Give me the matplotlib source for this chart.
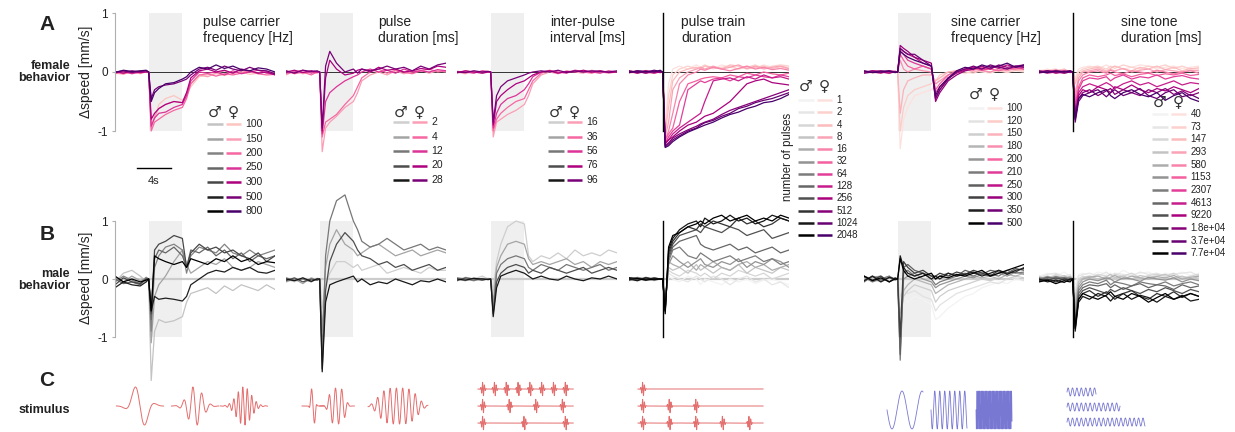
import numpy as np
import matplotlib.pyplot as plt

W, H = 1235, 432
plt.rcParams['font.family'] = ['Liberation Sans', 'DejaVu Sans']

# time grid of the behaviour traces [s], stimulus starts at t=0
t_grid = [-4, -3, -2, -1, -0.3, 0, 0.3, 0.7, 1.2, 2, 3, 4,
          4.5, 5, 6, 7, 8, 9, 10, 11, 12, 13, 14, 15]

# ---- pulse carrier frequency [Hz]
carrier_labels = ['100', '150', '200', '250', '300', '500', '800']
carrier_female = [
    [-0.02, -0.04, 0.00, -0.03, 0.01, 0.00, -0.85, -0.80, -0.55, -0.45, -0.40, -0.48, -0.40, -0.25, -0.08, -0.05, -0.03, -0.06, -0.02, 0.00, -0.04, -0.02, 0.00, -0.03],
    [-0.03, 0.00, -0.02, 0.02, -0.01, 0.00, -0.95, -0.75, -0.62, -0.55, -0.50, -0.52, -0.35, -0.20, -0.05, -0.08, -0.02, 0.02, -0.03, 0.02, 0.00, -0.03, 0.01, -0.02],
    [0.00, -0.03, 0.01, -0.02, 0.00, 0.00, -1.00, -0.85, -0.80, -0.72, -0.65, -0.60, -0.45, -0.20, -0.05, -0.03, -0.07, -0.03, -0.05, -0.02, 0.02, -0.03, -0.05, -0.04],
    [-0.02, 0.01, -0.03, 0.00, 0.02, 0.00, -0.92, -0.78, -0.70, -0.68, -0.60, -0.55, -0.40, -0.15, 0.00, -0.02, 0.00, -0.05, 0.02, -0.03, 0.00, 0.03, -0.02, -0.03],
    [0.01, -0.02, 0.02, -0.01, 0.00, 0.00, -0.80, -0.70, -0.62, -0.55, -0.50, -0.52, -0.35, -0.10, 0.02, 0.05, 0.00, 0.03, -0.02, 0.05, 0.02, -0.02, 0.00, -0.05],
    [0.00, 0.02, -0.01, 0.01, 0.02, 0.00, -0.45, -0.30, -0.25, -0.22, -0.20, -0.15, -0.12, -0.05, 0.05, 0.08, 0.03, 0.10, 0.05, 0.02, 0.08, 0.03, 0.02, -0.03],
    [-0.01, 0.03, 0.01, 0.02, 0.03, 0.00, -0.50, -0.35, -0.28, -0.20, -0.18, -0.12, -0.08, 0.00, 0.08, 0.05, 0.12, 0.06, 0.10, 0.04, 0.02, 0.07, 0.05, 0.00],
]
carrier_male = [
    [-0.05, 0.10, 0.15, 0.05, -0.05, 0.00, -1.75, -0.90, -0.70, -0.75, -0.72, -0.65, -0.40, -0.25, -0.20, -0.15, -0.25, -0.12, -0.20, -0.10, -0.15, -0.20, -0.10, -0.18],
    [0.02, -0.05, 0.05, -0.03, 0.02, 0.00, -1.10, -0.30, -0.10, 0.05, 0.30, 0.50, 0.25, 0.10, 0.20, 0.30, 0.25, 0.35, 0.20, 0.15, 0.20, 0.30, 0.25, 0.20],
    [-0.05, 0.05, -0.02, -0.08, 0.03, 0.00, -0.90, 0.20, 0.40, 0.55, 0.60, 0.50, 0.10, 0.40, 0.55, 0.50, 0.45, 0.60, 0.45, 0.40, 0.50, 0.40, 0.45, 0.50],
    [0.00, -0.08, -0.05, -0.10, 0.00, 0.00, -0.70, 0.35, 0.50, 0.45, 0.55, 0.40, 0.20, 0.50, 0.45, 0.55, 0.40, 0.50, 0.35, 0.45, 0.30, 0.40, 0.35, 0.40],
    [-0.10, 0.02, -0.05, -0.08, 0.00, 0.00, -0.60, 0.50, 0.60, 0.65, 0.75, 0.70, 0.20, 0.45, 0.60, 0.50, 0.55, 0.45, 0.50, 0.40, 0.35, 0.45, 0.30, 0.40],
    [-0.15, -0.05, -0.10, -0.12, -0.05, 0.00, -0.55, -0.30, -0.35, -0.33, -0.35, -0.38, -0.30, -0.10, 0.00, 0.10, 0.15, 0.12, 0.20, 0.15, 0.20, 0.12, 0.10, 0.15],
    [0.05, -0.05, 0.00, -0.05, -0.02, 0.00, -0.55, 0.40, 0.35, 0.30, 0.25, 0.30, 0.20, 0.35, 0.30, 0.25, 0.35, 0.30, 0.40, 0.30, 0.35, 0.25, 0.30, 0.28],
]

# ---- pulse duration [ms]
duration_labels = ['2', '4', '12', '20', '28']
duration_female = [
    [-0.05, 0.02, -0.03, 0.00, -0.02, 0.00, -1.35, -0.95, -0.85, -0.75, -0.60, -0.50, -0.35, -0.15, -0.05, 0.00, -0.05, 0.02, -0.03, 0.00, 0.03, -0.02, 0.02, 0.00],
    [0.02, -0.03, 0.00, -0.05, 0.00, 0.00, -1.10, -0.85, -0.80, -0.72, -0.55, -0.40, -0.25, -0.10, 0.00, 0.05, -0.02, 0.03, 0.00, -0.03, 0.02, 0.05, 0.00, 0.02],
    [-0.02, 0.00, 0.03, -0.02, 0.01, 0.00, -1.05, -0.50, -0.35, -0.25, -0.15, -0.08, -0.05, 0.00, 0.05, 0.00, 0.03, -0.02, 0.05, 0.00, 0.02, 0.00, 0.04, 0.02],
    [0.00, 0.03, -0.01, 0.02, 0.00, 0.00, -1.00, -0.10, 0.20, 0.05, -0.05, -0.02, 0.03, 0.05, 0.00, 0.08, 0.03, 0.05, 0.00, 0.02, 0.06, 0.04, 0.10, 0.08],
    [0.02, -0.02, 0.03, 0.01, 0.02, 0.00, -0.95, 0.10, 0.35, 0.15, 0.00, 0.05, -0.02, 0.05, 0.02, 0.05, 0.10, 0.05, 0.08, 0.02, 0.10, 0.05, 0.12, 0.15],
]
duration_male = [
    [0.00, -0.05, 0.02, -0.03, 0.00, 0.00, -0.50, -0.10, 0.10, 0.30, 0.30, 0.20, 0.25, 0.15, 0.20, 0.25, 0.10, 0.15, 0.20, 0.15, 0.10, 0.20, 0.15, 0.15],
    [-0.05, 0.00, -0.08, 0.02, -0.02, 0.00, -0.90, 0.20, 0.60, 0.85, 0.60, 0.50, 0.40, 0.45, 0.55, 0.60, 0.50, 0.40, 0.45, 0.50, 0.40, 0.45, 0.50, 0.45],
    [0.02, -0.02, 0.00, -0.05, 0.01, 0.00, -1.30, 0.40, 1.00, 1.35, 1.45, 1.00, 0.85, 0.65, 0.55, 0.60, 0.70, 0.60, 0.50, 0.55, 0.60, 0.50, 0.55, 0.50],
    [-0.03, 0.02, -0.05, 0.00, -0.02, 0.00, -1.55, -0.20, 0.30, 0.60, 0.80, 0.65, 0.50, 0.40, 0.35, 0.25, 0.30, 0.20, 0.25, 0.15, 0.20, 0.25, 0.15, 0.20],
    [0.00, -0.03, 0.02, -0.04, 0.00, 0.00, -1.60, -0.40, -0.10, -0.05, 0.00, 0.05, -0.05, 0.00, -0.10, -0.05, -0.08, 0.00, -0.05, -0.10, -0.03, -0.05, 0.00, -0.05],
]

# ---- inter-pulse interval [ms]
ipi_labels = ['16', '36', '56', '76', '96']
ipi_female = [
    [0.00, -0.03, 0.02, -0.02, 0.00, 0.00, -1.10, -0.85, -0.80, -0.72, -0.65, -0.55, -0.40, -0.20, -0.05, 0.00, -0.03, 0.02, 0.00, -0.02, 0.03, 0.00, -0.02, 0.00],
    [-0.02, 0.02, -0.01, 0.01, 0.00, 0.00, -1.00, -0.80, -0.70, -0.60, -0.50, -0.45, -0.30, -0.15, -0.02, 0.03, -0.01, 0.00, 0.02, 0.00, -0.02, 0.02, 0.00, 0.01],
    [0.01, 0.00, -0.02, 0.02, 0.01, 0.00, -0.95, -0.70, -0.55, -0.45, -0.40, -0.30, -0.20, -0.08, 0.00, 0.02, 0.00, -0.02, 0.03, 0.01, 0.00, -0.02, 0.02, 0.00],
    [-0.01, 0.02, 0.00, -0.02, 0.00, 0.00, -0.90, -0.50, -0.40, -0.30, -0.20, -0.15, -0.10, -0.05, 0.00, 0.02, -0.02, 0.01, 0.00, 0.03, 0.00, 0.02, -0.01, 0.00],
    [0.00, -0.01, 0.02, 0.00, 0.01, 0.00, -0.85, -0.40, -0.25, -0.15, -0.10, -0.05, -0.02, 0.00, 0.02, 0.00, 0.03, -0.01, 0.02, 0.00, 0.02, 0.01, 0.00, 0.02],
]
ipi_male = [
    [-0.02, 0.03, 0.00, 0.05, 0.00, 0.00, -0.20, 0.30, 0.60, 0.90, 1.00, 0.95, 0.40, 0.30, 0.40, 0.35, 0.45, 0.35, 0.50, 0.40, 0.45, 0.40, 0.50, 0.45],
    [0.00, -0.03, 0.02, -0.02, 0.01, 0.00, -0.40, 0.20, 0.40, 0.60, 0.65, 0.60, 0.35, 0.25, 0.30, 0.25, 0.30, 0.35, 0.25, 0.30, 0.20, 0.30, 0.25, 0.30],
    [0.02, 0.00, -0.03, 0.01, -0.01, 0.00, -0.55, 0.10, 0.25, 0.35, 0.40, 0.35, 0.20, 0.15, 0.25, 0.20, 0.15, 0.25, 0.20, 0.15, 0.20, 0.25, 0.15, 0.20],
    [-0.03, 0.02, 0.00, -0.02, 0.00, 0.00, -0.60, -0.05, 0.10, 0.20, 0.25, 0.20, 0.10, 0.15, 0.10, 0.20, 0.15, 0.10, 0.15, 0.20, 0.10, 0.15, 0.20, 0.15],
    [0.00, -0.02, 0.01, 0.00, -0.01, 0.00, -0.65, -0.15, 0.05, 0.10, 0.15, 0.10, 0.05, 0.00, 0.05, 0.00, -0.02, 0.05, 0.00, -0.03, 0.02, 0.00, 0.05, 0.00],
]

# ---- pulse train duration (number of pulses)
train_labels = ['1', '2', '4', '8', '16', '32', '64', '128', '256', '512', '1024', '2048']
train_female = [
    [0.02, -0.01, 0.03, 0.00, 0.01, 0.00, -0.90, -0.20, 0.05, 0.10, 0.05, 0.12, 0.08, 0.10, 0.05, 0.12, 0.08, 0.05, 0.10, 0.06, 0.12, 0.08, 0.10, 0.08],
    [0.00, 0.02, -0.02, 0.01, 0.00, 0.00, -1.00, -0.40, -0.05, 0.05, 0.10, 0.05, 0.08, 0.12, 0.06, 0.08, 0.10, 0.05, 0.08, 0.12, 0.06, 0.10, 0.12, 0.10],
    [-0.02, 0.00, 0.01, -0.01, 0.02, 0.00, -1.05, -0.60, -0.15, 0.00, 0.05, 0.08, 0.05, 0.10, 0.08, 0.05, 0.12, 0.10, 0.05, 0.08, 0.10, 0.06, 0.09, 0.05],
    [0.01, -0.02, 0.00, 0.02, -0.01, 0.00, -1.10, -0.85, -0.30, -0.10, 0.00, 0.05, 0.08, 0.05, 0.10, 0.05, 0.08, 0.12, 0.06, 0.10, 0.05, 0.08, 0.10, 0.06],
    [-0.01, 0.01, -0.02, 0.00, 0.01, 0.00, -1.15, -1.00, -0.70, -0.20, -0.05, 0.00, 0.05, 0.03, 0.08, 0.05, 0.02, 0.06, 0.10, 0.05, 0.08, 0.04, 0.06, 0.03],
    [0.00, -0.01, 0.02, -0.02, 0.00, 0.00, -1.15, -1.05, -0.95, -0.50, -0.20, -0.15, -0.12, -0.10, -0.08, -0.10, -0.05, -0.08, -0.02, -0.05, 0.00, -0.03, -0.05, -0.02],
    [0.02, 0.00, -0.01, 0.01, 0.00, 0.00, -1.20, -1.10, -1.00, -0.90, -0.30, -0.20, -0.15, -0.18, -0.12, -0.10, -0.15, -0.08, -0.10, -0.05, -0.08, -0.10, -0.05, -0.08],
    [-0.01, 0.02, 0.00, -0.02, 0.01, 0.00, -1.20, -1.15, -1.05, -0.95, -0.85, -0.75, -0.70, -0.50, -0.15, -0.12, -0.10, -0.15, -0.08, -0.12, -0.05, -0.10, -0.08, -0.12],
    [0.01, -0.02, 0.02, 0.00, -0.01, 0.00, -1.22, -1.15, -1.10, -1.00, -0.90, -0.85, -0.80, -0.75, -0.70, -0.60, -0.50, -0.35, -0.20, -0.15, -0.12, -0.18, -0.20, -0.22],
    [0.00, 0.01, -0.02, 0.02, 0.00, 0.00, -1.25, -1.20, -1.12, -1.05, -0.98, -0.92, -0.88, -0.85, -0.80, -0.72, -0.65, -0.60, -0.55, -0.50, -0.45, -0.40, -0.35, -0.30],
    [0.02, -0.01, 0.00, 0.03, 0.01, 0.00, -1.27, -1.22, -1.15, -1.08, -1.00, -0.95, -0.90, -0.86, -0.82, -0.75, -0.70, -0.62, -0.58, -0.52, -0.48, -0.45, -0.40, -0.35],
    [-0.01, 0.02, 0.01, 0.00, 0.03, 0.00, -1.28, -1.25, -1.18, -1.10, -1.02, -0.96, -0.93, -0.90, -0.85, -0.78, -0.72, -0.68, -0.62, -0.58, -0.52, -0.50, -0.45, -0.38],
]
train_male = [
    [0.00, -0.05, 0.03, -0.02, 0.00, 0.00, -0.30, 0.05, 0.00, -0.05, 0.05, 0.00, -0.10, 0.00, -0.05, -0.10, 0.00, -0.05, 0.00, -0.08, -0.02, 0.00, -0.05, -0.10],
    [0.02, 0.00, -0.03, 0.02, 0.00, 0.00, -0.35, 0.10, 0.05, 0.00, -0.05, 0.05, 0.00, -0.05, 0.05, 0.00, -0.10, 0.00, 0.05, -0.05, 0.00, -0.10, -0.05, -0.15],
    [-0.03, 0.02, 0.00, -0.03, 0.00, 0.00, -0.40, 0.15, 0.10, 0.05, 0.15, 0.10, 0.05, 0.10, 0.00, 0.10, 0.05, 0.15, 0.10, 0.05, 0.10, 0.00, 0.05, 0.10],
    [0.01, -0.02, 0.02, 0.00, 0.00, 0.00, -0.40, 0.20, 0.15, 0.20, 0.10, 0.25, 0.15, 0.20, 0.10, 0.20, 0.15, 0.25, 0.10, 0.20, 0.15, 0.10, 0.20, 0.15],
    [-0.02, 0.03, -0.01, 0.02, 0.00, 0.00, -0.45, 0.30, 0.25, 0.20, 0.30, 0.15, 0.25, 0.20, 0.30, 0.20, 0.15, 0.25, 0.30, 0.20, 0.25, 0.15, 0.20, 0.25],
    [0.00, -0.02, 0.03, -0.01, 0.00, 0.00, -0.45, 0.25, 0.40, 0.30, 0.20, 0.30, 0.35, 0.25, 0.20, 0.30, 0.25, 0.35, 0.20, 0.30, 0.25, 0.35, 0.30, 0.20],
    [0.02, 0.00, -0.02, 0.01, 0.00, 0.00, -0.50, 0.30, 0.50, 0.55, 0.40, 0.35, 0.45, 0.40, 0.30, 0.35, 0.40, 0.30, 0.35, 0.40, 0.30, 0.35, 0.25, 0.30],
    [-0.01, 0.02, 0.00, -0.02, 0.00, 0.00, -0.50, 0.35, 0.55, 0.65, 0.70, 0.75, 0.60, 0.55, 0.50, 0.55, 0.60, 0.50, 0.55, 0.45, 0.50, 0.55, 0.45, 0.50],
    [0.01, -0.01, 0.02, 0.00, 0.00, 0.00, -0.55, 0.40, 0.60, 0.75, 0.80, 0.85, 0.80, 0.90, 0.85, 0.80, 0.90, 0.85, 0.75, 0.80, 0.85, 0.70, 0.75, 0.80],
    [-0.02, 0.01, -0.01, 0.02, 0.00, 0.00, -0.55, 0.45, 0.65, 0.80, 0.90, 0.85, 0.95, 0.90, 1.00, 0.95, 0.90, 1.05, 0.95, 1.00, 0.90, 0.95, 1.05, 1.00],
    [0.00, -0.03, 0.02, -0.01, 0.00, 0.00, -0.55, 0.50, 0.70, 0.85, 0.95, 1.00, 0.90, 1.05, 0.95, 1.00, 1.10, 1.00, 1.05, 0.95, 1.00, 1.10, 1.05, 1.00],
    [0.02, 0.01, -0.02, 0.00, 0.00, 0.00, -0.60, 0.55, 0.75, 0.80, 0.90, 0.95, 1.00, 0.95, 1.05, 1.10, 1.00, 1.05, 1.10, 1.00, 1.05, 1.00, 1.10, 1.05],
]

# ---- sine carrier frequency [Hz]
sine_labels = ['100', '120', '150', '180', '200', '210', '250', '300', '350', '500']
sine_female = [
    [0.00, -0.02, 0.01, -0.03, 0.00, 0.00, -1.30, -0.80, -0.60, -0.40, -0.35, -0.30, -0.25, -0.10, -0.05, 0.00, -0.03, 0.02, 0.00, -0.02, 0.03, 0.00, 0.02, 0.00],
    [0.02, 0.00, -0.02, 0.01, 0.00, 0.00, -1.00, -0.60, -0.40, -0.30, -0.25, -0.20, -0.15, -0.05, 0.00, 0.02, 0.00, -0.02, 0.03, 0.00, 0.02, -0.01, 0.03, 0.02],
    [-0.01, 0.02, 0.00, -0.02, 0.01, 0.00, -0.70, -0.30, -0.15, -0.10, -0.05, -0.05, -0.15, -0.10, 0.00, 0.02, 0.05, 0.00, 0.03, 0.05, 0.02, 0.06, 0.03, 0.05],
    [0.00, 0.01, 0.02, 0.00, -0.01, 0.00, 0.20, 0.05, 0.00, 0.05, 0.02, 0.00, -0.20, -0.15, -0.05, 0.00, 0.03, 0.05, 0.02, 0.00, 0.05, 0.02, 0.06, 0.04],
    [0.02, -0.01, 0.00, 0.02, 0.00, 0.00, 0.30, 0.20, 0.10, 0.05, 0.10, 0.05, -0.30, -0.20, -0.05, 0.02, 0.05, 0.03, 0.08, 0.05, 0.02, 0.06, 0.05, 0.08],
    [-0.02, 0.02, 0.01, -0.01, 0.00, 0.00, 0.35, 0.30, 0.20, 0.15, 0.10, 0.05, -0.35, -0.25, -0.10, 0.00, 0.05, 0.08, 0.03, 0.06, 0.10, 0.05, 0.08, 0.05],
    [0.01, 0.00, -0.02, 0.02, 0.01, 0.00, 0.40, 0.35, 0.30, 0.25, 0.15, 0.10, -0.45, -0.30, -0.10, -0.02, 0.03, 0.08, 0.05, 0.10, 0.06, 0.12, 0.08, 0.10],
    [0.00, 0.02, 0.00, -0.02, 0.01, 0.00, 0.45, 0.40, 0.35, 0.25, 0.20, 0.15, -0.50, -0.35, -0.15, -0.05, 0.02, 0.05, 0.10, 0.05, 0.12, 0.08, 0.10, 0.12],
    [-0.02, 0.00, 0.02, 0.01, 0.00, 0.00, 0.40, 0.35, 0.30, 0.30, 0.20, 0.10, -0.45, -0.30, -0.12, 0.00, 0.05, 0.10, 0.05, 0.12, 0.08, 0.05, 0.10, 0.08],
    [0.02, -0.01, 0.00, 0.02, -0.01, 0.00, 0.35, 0.30, 0.25, 0.20, 0.15, 0.10, -0.40, -0.25, -0.10, 0.02, 0.08, 0.05, 0.12, 0.08, 0.10, 0.15, 0.08, 0.12],
]
sine_male = [
    [-0.05, 0.02, -0.03, 0.00, -0.02, 0.00, -0.20, -0.30, -0.40, -0.30, -0.35, -0.45, -0.70, -0.65, -0.50, -0.40, -0.30, -0.25, -0.15, -0.10, -0.05, -0.08, 0.00, -0.02],
    [0.02, -0.05, 0.05, -0.03, 0.00, 0.00, -0.30, -0.20, -0.25, -0.20, -0.30, -0.35, -0.55, -0.45, -0.35, -0.25, -0.20, -0.15, -0.10, -0.05, -0.08, 0.00, 0.02, -0.03],
    [-0.03, 0.05, 0.00, 0.05, 0.00, 0.00, -0.60, -0.30, -0.20, -0.10, -0.15, -0.20, -0.40, -0.30, -0.20, -0.15, -0.10, -0.05, 0.00, -0.03, 0.02, 0.00, 0.05, 0.02],
    [0.05, 0.00, -0.05, 0.02, 0.00, 0.00, -0.90, -0.20, -0.10, 0.00, -0.05, -0.10, -0.25, -0.20, -0.10, -0.05, 0.00, 0.05, 0.02, 0.05, 0.00, 0.08, 0.05, 0.10],
    [-0.02, 0.03, 0.05, -0.05, 0.02, 0.00, -1.20, 0.00, 0.05, 0.10, 0.00, -0.05, -0.15, -0.10, -0.05, 0.00, 0.05, 0.02, 0.08, 0.05, 0.10, 0.05, 0.12, 0.08],
    [0.03, -0.05, 0.00, 0.05, -0.02, 0.00, -1.40, 0.10, 0.15, 0.05, 0.10, 0.00, -0.10, -0.05, 0.00, 0.05, 0.10, 0.05, 0.12, 0.08, 0.05, 0.15, 0.10, 0.12],
    [-0.05, 0.05, -0.02, 0.02, 0.00, 0.00, -1.30, 0.20, 0.25, 0.15, 0.10, 0.05, 0.00, 0.05, 0.10, 0.05, 0.15, 0.10, 0.08, 0.15, 0.12, 0.10, 0.18, 0.15],
    [0.05, -0.02, 0.05, -0.05, 0.02, 0.00, -1.00, 0.30, 0.20, 0.10, 0.15, 0.05, 0.05, 0.10, 0.05, 0.12, 0.08, 0.15, 0.10, 0.05, 0.15, 0.10, 0.12, 0.20],
    [-0.03, 0.05, -0.05, 0.03, 0.00, 0.00, 0.40, 0.20, 0.10, 0.05, 0.10, 0.00, 0.05, 0.00, 0.10, 0.05, 0.08, 0.12, 0.05, 0.10, 0.15, 0.08, 0.15, 0.18],
    [0.05, -0.03, 0.02, -0.05, 0.00, 0.00, 0.35, 0.15, 0.05, 0.00, 0.05, 0.10, 0.00, 0.05, 0.02, 0.08, 0.05, 0.10, 0.15, 0.05, 0.10, 0.15, 0.20, 0.25],
]

# ---- sine tone duration [ms]
tone_labels = ['40', '73', '147', '293', '580', '1153', '2307', '4613', '9220', '1.8e+04', '3.7e+04', '7.7e+04']
tone_female = [
    [0.02, 0.05, 0.00, 0.03, 0.02, 0.00, -0.10, 0.05, 0.08, 0.10, 0.05, 0.12, 0.08, 0.10, 0.05, 0.08, 0.12, 0.10, 0.05, 0.08, 0.10, 0.06, 0.08, 0.10],
    [0.00, 0.03, 0.05, 0.00, 0.02, 0.00, -0.15, 0.00, 0.05, 0.08, 0.10, 0.05, 0.10, 0.06, 0.12, 0.08, 0.05, 0.10, 0.08, 0.12, 0.06, 0.10, 0.05, 0.08],
    [0.03, 0.00, 0.02, 0.05, 0.00, 0.00, -0.20, -0.05, 0.02, 0.05, 0.08, 0.02, 0.06, 0.10, 0.05, 0.02, 0.08, 0.05, 0.10, 0.04, 0.08, 0.02, 0.06, 0.05],
    [0.00, 0.02, -0.02, 0.03, 0.01, 0.00, -0.35, -0.10, 0.00, 0.02, 0.05, 0.00, 0.04, 0.02, 0.06, 0.00, 0.03, 0.05, 0.00, 0.04, 0.02, 0.00, 0.03, 0.02],
    [0.02, -0.01, 0.03, 0.00, 0.02, 0.00, -0.45, -0.15, -0.05, 0.00, 0.02, -0.02, 0.03, 0.00, -0.03, 0.02, 0.00, -0.02, 0.03, 0.00, -0.03, 0.00, 0.02, -0.02],
    [0.00, 0.02, 0.00, -0.02, 0.01, 0.00, -0.55, -0.25, -0.10, -0.05, -0.08, -0.05, -0.02, -0.06, -0.03, -0.08, -0.04, -0.02, -0.06, -0.03, -0.05, -0.02, -0.06, -0.04],
    [-0.02, 0.01, 0.03, 0.00, 0.00, 0.00, -0.60, -0.30, -0.15, -0.10, -0.12, -0.08, -0.15, -0.10, -0.05, -0.12, -0.08, -0.10, -0.05, -0.12, -0.08, -0.06, -0.10, -0.12],
    [0.01, -0.02, 0.00, 0.02, -0.01, 0.00, -0.70, -0.35, -0.25, -0.20, -0.25, -0.18, -0.22, -0.28, -0.20, -0.15, -0.22, -0.18, -0.25, -0.20, -0.15, -0.22, -0.18, -0.20],
    [0.00, 0.02, -0.02, 0.00, 0.02, 0.00, -0.75, -0.40, -0.30, -0.35, -0.25, -0.30, -0.35, -0.25, -0.30, -0.22, -0.30, -0.35, -0.28, -0.32, -0.25, -0.30, -0.35, -0.28],
    [0.02, 0.00, 0.01, -0.02, 0.00, 0.00, -0.80, -0.45, -0.35, -0.30, -0.40, -0.32, -0.28, -0.38, -0.30, -0.35, -0.40, -0.30, -0.35, -0.28, -0.38, -0.32, -0.40, -0.35],
    [-0.01, 0.02, 0.00, 0.01, 0.02, 0.00, -0.85, -0.50, -0.40, -0.35, -0.30, -0.42, -0.35, -0.30, -0.40, -0.35, -0.28, -0.40, -0.45, -0.35, -0.30, -0.42, -0.38, -0.45],
    [0.00, -0.01, 0.02, 0.00, 0.01, 0.00, -0.80, -0.45, -0.38, -0.42, -0.35, -0.30, -0.40, -0.45, -0.35, -0.30, -0.38, -0.42, -0.35, -0.48, -0.40, -0.35, -0.45, -0.50],
]
tone_male = [
    [0.05, 0.10, 0.05, 0.12, 0.05, 0.00, -0.10, 0.08, 0.10, 0.05, 0.12, 0.08, 0.10, 0.05, 0.15, 0.08, 0.10, 0.12, 0.05, 0.10, 0.08, 0.12, 0.06, 0.10],
    [0.02, 0.08, 0.10, 0.05, 0.08, 0.00, -0.20, 0.05, 0.08, 0.10, 0.05, 0.12, 0.06, 0.10, 0.08, 0.05, 0.12, 0.08, 0.10, 0.05, 0.08, 0.10, 0.12, 0.05],
    [0.05, 0.00, 0.08, 0.02, 0.05, 0.00, -0.30, 0.00, 0.05, 0.02, 0.08, 0.05, 0.00, 0.08, 0.05, 0.10, 0.02, 0.06, 0.08, 0.05, 0.10, 0.02, 0.05, 0.08],
    [0.00, 0.05, 0.02, 0.06, 0.00, 0.00, -0.40, -0.05, 0.02, 0.05, 0.00, 0.04, 0.08, 0.02, 0.05, 0.00, 0.06, 0.03, 0.05, 0.08, 0.02, 0.05, 0.00, 0.04],
    [0.03, 0.00, 0.05, 0.00, 0.04, 0.00, -0.50, -0.10, 0.00, 0.03, 0.05, 0.00, 0.03, 0.06, 0.00, 0.05, 0.02, 0.00, 0.04, 0.02, 0.06, 0.00, 0.03, 0.05],
    [0.00, 0.04, 0.00, 0.03, 0.02, 0.00, -0.60, -0.15, -0.05, 0.00, -0.03, 0.02, 0.00, -0.05, 0.02, 0.00, -0.04, 0.03, 0.00, -0.02, 0.02, -0.05, 0.00, -0.03],
    [0.02, -0.02, 0.04, 0.00, 0.00, 0.00, -0.70, -0.20, -0.10, -0.05, -0.08, -0.02, -0.10, -0.05, -0.08, -0.12, -0.05, -0.08, -0.10, -0.05, -0.12, -0.08, -0.05, -0.10],
    [-0.02, 0.03, 0.00, 0.02, -0.02, 0.00, -0.75, -0.25, -0.15, -0.10, -0.12, -0.08, -0.15, -0.10, -0.18, -0.12, -0.08, -0.15, -0.10, -0.12, -0.18, -0.10, -0.15, -0.12],
    [0.00, -0.03, 0.02, -0.02, 0.00, 0.00, -0.80, -0.30, -0.20, -0.15, -0.20, -0.25, -0.18, -0.22, -0.15, -0.20, -0.25, -0.18, -0.22, -0.15, -0.20, -0.25, -0.18, -0.22],
    [-0.03, 0.00, -0.05, 0.00, -0.02, 0.00, -0.85, -0.35, -0.25, -0.20, -0.30, -0.22, -0.28, -0.35, -0.25, -0.20, -0.30, -0.35, -0.25, -0.30, -0.22, -0.32, -0.25, -0.30],
    [0.00, -0.05, -0.02, -0.06, 0.00, 0.00, -0.90, -0.40, -0.30, -0.35, -0.25, -0.30, -0.38, -0.30, -0.25, -0.35, -0.28, -0.32, -0.40, -0.30, -0.35, -0.28, -0.38, -0.35],
    [-0.05, -0.02, -0.08, -0.03, -0.05, 0.00, -0.85, -0.35, -0.25, -0.30, -0.35, -0.28, -0.22, -0.30, -0.35, -0.25, -0.30, -0.40, -0.32, -0.25, -0.35, -0.30, -0.25, -0.30],
]

# ---- stimulus sketches (row C)
pulse_carriers = [100, 250, 500]     # Hz
pulse_durations = [4, 12, 28]        # ms
train_ipis = [16, 56, 96]            # ms
train_counts = [1, 3, 5]
sine_freqs = [100, 400, 1450]        # Hz
tone_durations = [29, 53, 78]        # ms


def box(x0, x1, ytop, ybot):
    return [x0 / W, 1 - ybot / H, (x1 - x0) / W, (ybot - ytop) / H]


fig = plt.figure(figsize=(W / 100, H / 100), dpi=100)

panels = [
    dict(x=115, title='pulse carrier\nfrequency [Hz]', tx=203, labels=carrier_labels,
         fem=carrier_female, male=carrier_male, mark='shade', fr=(0.25, 1.0), mr=(0.35, 1.0),
         leg=(207, 124, 14.5, 112, 7.5)),
    dict(x=286, title='pulse\nduration [ms]', tx=378, labels=duration_labels,
         fem=duration_female, male=duration_male, mark='shade', fr=(0.375, 0.875), mr=(0.3, 0.92),
         leg=(393, 122, 14.5, 112, 7.5)),
    dict(x=457, title='inter-pulse\ninterval [ms]', tx=550, labels=ipi_labels,
         fem=ipi_female, male=ipi_male, mark='shade', fr=(0.375, 0.875), mr=(0.3, 0.92),
         leg=(548, 122, 14.5, 112, 7.5)),
    dict(x=629, title='pulse train\nduration', tx=681, labels=train_labels,
         fem=train_female, male=train_male, mark='line', fr=(0.12, 1.0), mr=(0.1, 1.0),
         leg=(798, 100, 12.3, 86, 7)),
    dict(x=864, title='sine carrier\nfrequency [Hz]', tx=951, labels=sine_labels,
         fem=sine_female, male=sine_male, mark='shade', fr=(0.12, 1.0), mr=(0.1, 1.0),
         leg=(968, 108, 12.75, 94, 7)),
    dict(x=1039, title='sine tone\nduration [ms]', tx=1121, labels=tone_labels,
         fem=tone_female, male=tone_male, mark='line', fr=(0.12, 1.0), mr=(0.1, 1.0),
         leg=(1152, 114, 12.65, 102, 7)),
]

rows = [dict(ytop=10.05, ybot=157.55, ylim=(-1.45, 1.05), key='fem', cmap='RdPu',
             zero=dict(color='#333333', lw=0.7)),
        dict(ytop=192.0, ybot=389.2, ylim=(-1.9, 1.5), key='male', cmap='Greys',
             zero=dict(color='#cccccc', lw=1.6))]

ov = fig.add_axes([0, 0, 1, 1])
ov.set_xlim(0, W)
ov.set_ylim(H, 0)
ov.axis('off')

trace_axes = []
for r, row in enumerate(rows):
    for i, p in enumerate(panels):
        ax = fig.add_axes(box(p['x'], p['x'] + 160, row['ytop'], row['ybot']))
        ax.patch.set_alpha(0)
        ax.set_xlim(-4, 15)
        ax.set_ylim(*row['ylim'])
        for s in ['top', 'right', 'bottom']:
            ax.spines[s].set_visible(False)
        ax.set_xticks([])
        if i == 0:
            ax.spines['left'].set_bounds(-1, 1)
            ax.spines['left'].set_color('#b0b0b0')
            ax.spines['left'].set_linewidth(0.8)
            ax.set_yticks([-1, 0, 1])
            ax.set_yticklabels(['-1', '0', '1'])
            ax.tick_params(axis='y', length=2, color='#b0b0b0', labelsize=8.5, pad=3, labelcolor='#222222')
        else:
            ax.spines['left'].set_visible(False)
            ax.set_yticks([])
        if p['mark'] == 'shade':
            ax.fill_between([0, 4], -1, 1, color='#efefef', lw=0, zorder=0)
        else:
            ax.plot([0, 0], [-1, 1], color='black', lw=1.0, zorder=3)
        ax.plot([-4, 15], [0, 0], zorder=1, **row['zero'])
        data = p[row['key']]
        lo, hi = p['fr'] if r == 0 else p['mr']
        cols = plt.get_cmap(row['cmap'])(np.linspace(lo, hi, len(data)))
        for trace, c in zip(data, cols):
            ax.plot(t_grid, trace, color=c, lw=0.9, zorder=2)
        trace_axes.append(ax)

# scale bar 4 s under the first panel
ax0 = trace_axes[0]
ax0.plot([-1.4, 2.6], [-1.63, -1.63], color='black', lw=1.0, clip_on=False)
ax0.text(0.6, -1.84, '4s', ha='center', va='center', fontsize=8, color='#222222', clip_on=False)

# titles and legends
for p in panels:
    ov.text(p['tx'], 30, p['title'], ha='left', va='center', fontsize=10,
            linespacing=1.15, color='#222222')
    x0, y0, dy, ysym, fs = p['leg']
    n = len(p['labels'])
    fcol = plt.get_cmap('RdPu')(np.linspace(*p['fr'], n))
    mcol = plt.get_cmap('Greys')(np.linspace(*p['mr'], n))
    ov.text(x0 + 7.5, ysym, '\u2642', ha='center', va='center', fontsize=11, color='#333333',
            family='DejaVu Sans')
    ov.text(x0 + 26, ysym, '\u2640', ha='center', va='center', fontsize=11, color='#333333',
            family='DejaVu Sans')
    for k, lab in enumerate(p['labels']):
        y = y0 + k * dy
        ov.plot([x0, x0 + 15.5], [y, y], color=mcol[k], lw=1.8, solid_capstyle='butt')
        ov.plot([x0 + 18.5, x0 + 34], [y, y], color=fcol[k], lw=1.8, solid_capstyle='butt')
        ov.text(x0 + 38.5, y, lab, ha='left', va='center', fontsize=fs, color='#222222')

ov.text(788, 157, 'number of pulses', rotation=90, ha='center', va='center', fontsize=8.3, color='#222222')

# row letters and labels
for letter, y in [('A', 25), ('B', 235), ('C', 381)]:
    ov.text(47, y, letter, ha='center', va='center', fontsize=15, fontweight='bold', color='#222222')
ov.text(70, 72, 'female\nbehavior', ha='right', va='center', fontsize=9, fontweight='bold',
        linespacing=1.05, color='#222222')
ov.text(70, 280, 'male\nbehavior', ha='right', va='center', fontsize=9, fontweight='bold',
        linespacing=1.05, color='#222222')
ov.text(70, 410, 'stimulus', ha='right', va='center', fontsize=9, fontweight='bold', color='#222222')
for y in [72, 278]:
    ov.text(86, y, '\u0394speed [mm/s]', rotation=90, ha='center', va='center', fontsize=10, color='#222222')


# ---- row C: stimulus sketches
def gabor(t, f, sigma):
    return -np.sin(2 * np.pi * f * t / 1000) * np.exp(-t ** 2 / (2 * sigma ** 2))


def stim_axes(x0, x1, ytop, ybot, xlim, ylim):
    a = fig.add_axes(box(x0, x1, ytop, ybot))
    a.set_xlim(*xlim)
    a.set_ylim(*ylim)
    a.axis('off')
    return a


red = dict(color='#dd4a4a', lw=0.7, alpha=0.8)
blue = dict(color='#5656c8', lw=0.6, alpha=0.8)

# pulse carrier frequency: three wavelets
a = stim_axes(115, 270, 381, 431, (0, 68.9), (-1.25, 1.25))
tt = np.linspace(-10.5, 10.5, 1500)
for c, f in zip([11.1, 35.6, 57.3], pulse_carriers):
    a.plot(c + tt, gabor(tt, f, 3.2) / np.abs(gabor(tt, f, 3.2)).max() * 0.95, **red)

# pulse duration: three pulses
a = stim_axes(300, 430, 381, 431, (0, 82.8), (-1.25, 1.25))
for c, d in zip([8.3, 23.6, 62.4], pulse_durations):
    tt = np.linspace(-d / 2 - 5, d / 2 + 5, 1500)
    env = np.exp(-(tt / (d / 2)) ** 4)
    a.plot(c + tt, -np.sin(2 * np.pi * 250 * tt / 1000) * env * 0.9, **red)

# inter-pulse interval: three trains
a = stim_axes(475, 578, 381, 431, (0, 279), (-1.47, 1.47))
tt = np.linspace(8, 266, 6000)
for k, ipi in enumerate(train_ipis):
    period = ipi + 16
    n = int((246.6 - 21.7) // period) + 1
    y = sum(gabor(tt - 21.7 - j * period, 200, 3.5) for j in range(n))
    a.plot(tt, 1 - k + 0.42 * y, **red)

# pulse train duration: 1, 3, 5 pulses
a = stim_axes(636, 766, 381, 431, (0, 352), (-1.47, 1.47))
tt = np.linspace(5.4, 344, 6000)
for k, n in enumerate(train_counts):
    y = sum(gabor(tt - 19 - j * 72, 200, 3.5) for j in range(n))
    a.plot(tt, 1 - k + 0.42 * y, **red)

# sine carrier frequency: three snippets
a = stim_axes(880, 1020, 384, 432, (0, 70), (-1.16, 1.37))
tt = np.linspace(0, 18, 3000)
for s, f in zip([3.5, 25.5, 48], sine_freqs):
    a.plot(s + tt, -np.sin(2 * np.pi * f * tt / 1000), **blue)

# sine tone duration: three tones
a = stim_axes(1060, 1150, 384, 430, (0, 90), (-1.53, 1.53))
for k, d in enumerate(tone_durations):
    tt = np.linspace(0, d, 1500)
    a.plot(7 + tt, 1 - k + 0.27 * np.sin(2 * np.pi * 227 * tt / 1000), **blue)

fig.savefig('out.png', dpi=100)
